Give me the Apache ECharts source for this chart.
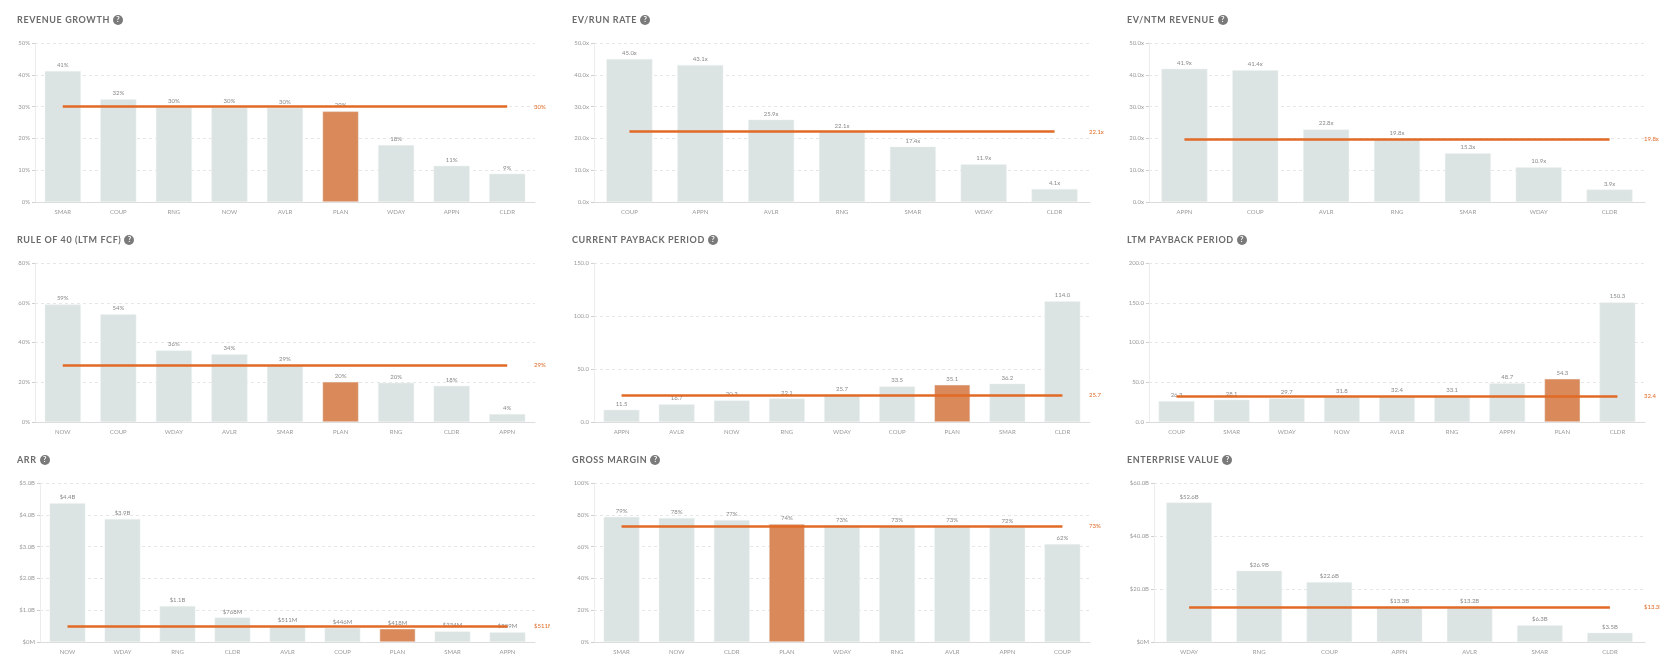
<!DOCTYPE html>
<html>
<head>
<meta charset="utf-8">
<script src="https://cdn.jsdelivr.net/npm/echarts@6/dist/echarts.min.js"></script>
<style>
  body { margin: 0; background: #fff; width: 1671px; height: 666px; overflow: hidden; position: relative; }
  .panel { position: absolute; width: 550px; height: 220px; }
  .chart { position: absolute; left: 0; top: 0; width: 550px; height: 220px; }
  .title {
    position: absolute; left: 17px; top: 15px; z-index: 2;
    font-family: Lato, "Open Sans", sans-serif; font-weight: bold; font-size: 9px;
    letter-spacing: 0.6px; color: #6b6b6b; line-height: 10px; white-space: nowrap;
  }
  .q {
    display: inline-block; width: 10px; height: 10px; border-radius: 50%; background: #7a7a7a;
    color: #fff; font-size: 7.5px; line-height: 10px; text-align: center; letter-spacing: 0;
    margin-left: 3px; vertical-align: top;
  }
</style>
</head>
<body>
<script>
// --- data ---
var revCats = ['SMAR', 'COUP', 'RNG', 'NOW', 'AVLR', 'PLAN', 'WDAY', 'APPN', 'CLDR'];
var revVals = [41.2, 32.3, 29.8, 29.7, 29.6, 28.5, 17.9, 11.4, 8.9];
var revMedian = 30;

var runCats = ['COUP', 'APPN', 'AVLR', 'RNG', 'SMAR', 'WDAY', 'CLDR'];
var runVals = [45.0, 43.1, 25.9, 22.1, 17.4, 11.9, 4.1];
var runMedian = 22.1;

var ntmCats = ['APPN', 'COUP', 'AVLR', 'RNG', 'SMAR', 'WDAY', 'CLDR'];
var ntmVals = [41.9, 41.4, 22.8, 19.8, 15.3, 10.9, 3.9];
var ntmMedian = 19.8;

var r40Cats = ['NOW', 'COUP', 'WDAY', 'AVLR', 'SMAR', 'PLAN', 'RNG', 'CLDR', 'APPN'];
var r40Vals = [59.1, 54.2, 36.0, 34.1, 28.6, 20.2, 19.7, 18.2, 4.0];
var r40Median = 28.6;

var curCats = ['APPN', 'AVLR', 'NOW', 'RNG', 'WDAY', 'COUP', 'PLAN', 'SMAR', 'CLDR'];
var curVals = [11.5, 16.7, 20.3, 22.1, 25.7, 33.5, 35.1, 36.2, 114.0];
var curMedian = 25.7;

var ltmCats = ['COUP', 'SMAR', 'WDAY', 'NOW', 'AVLR', 'RNG', 'APPN', 'PLAN', 'CLDR'];
var ltmVals = [26.3, 28.1, 29.7, 31.8, 32.4, 33.1, 48.7, 54.3, 150.3];
var ltmMedian = 32.4;

// ARR and EV in $M
var arrCats = ['NOW', 'WDAY', 'RNG', 'CLDR', 'AVLR', 'COUP', 'PLAN', 'SMAR', 'APPN'];
var arrVals = [4360, 3870, 1130, 768, 511, 446, 418, 334, 309];
var arrMedian = 511;

var gmCats = ['SMAR', 'NOW', 'CLDR', 'PLAN', 'WDAY', 'RNG', 'AVLR', 'APPN', 'COUP'];
var gmVals = [78.7, 78.0, 76.8, 74.2, 73.2, 73.1, 73.0, 72.3, 61.6];
var gmMedian = 73.1;

var evCats = ['WDAY', 'RNG', 'COUP', 'APPN', 'AVLR', 'SMAR', 'CLDR'];
var evVals = [52600, 26900, 22600, 13300, 13200, 6300, 3500];
var evMedian = 13300;

var HIGHLIGHT = 'PLAN';

function pct(v) { return Math.round(v) + '%'; }
function mult(v) { return v.toFixed(1) + 'x'; }
function num(v) { return v.toFixed(1); }
function money(v) {
  if (v === 0) return '$0M';
  if (v >= 1000) return '$' + (v / 1000).toFixed(1) + 'B';
  return '$' + Math.round(v) + 'M';
}

var panels = [
  { title: 'REVENUE GROWTH', cats: revCats, vals: revVals, median: revMedian, fmt: pct, max: 50, interval: 10, left: 35 },
  { title: 'EV/RUN RATE', cats: runCats, vals: runVals, median: runMedian, fmt: mult, max: 50, interval: 10, left: 39 },
  { title: 'EV/NTM REVENUE', cats: ntmCats, vals: ntmVals, median: ntmMedian, fmt: mult, max: 50, interval: 10, left: 39 },
  { title: 'RULE OF 40 (LTM FCF)', cats: r40Cats, vals: r40Vals, median: r40Median, fmt: pct, max: 80, interval: 20, left: 35 },
  { title: 'CURRENT PAYBACK PERIOD', cats: curCats, vals: curVals, median: curMedian, fmt: num, max: 150, interval: 50, left: 39 },
  { title: 'LTM PAYBACK PERIOD', cats: ltmCats, vals: ltmVals, median: ltmMedian, fmt: num, max: 200, interval: 50, left: 39 },
  { title: 'ARR', cats: arrCats, vals: arrVals, median: arrMedian, fmt: money, max: 5000, interval: 1000, left: 40 },
  { title: 'GROSS MARGIN', cats: gmCats, vals: gmVals, median: gmMedian, fmt: pct, max: 100, interval: 20, left: 39 },
  { title: 'ENTERPRISE VALUE', cats: evCats, vals: evVals, median: evMedian, fmt: money, max: 60000, interval: 20000, left: 44 }
];

var W = 550, H = 220, RIGHT = 15;
var FONT = 'Lato, "Open Sans", sans-serif';

panels.forEach(function (p, i) {
  var col = i % 3, row = Math.floor(i / 3);
  var panel = document.createElement('div');
  panel.className = 'panel';
  panel.style.left = (col * 555) + 'px';
  panel.style.top = (row * 220) + 'px';
  panel.innerHTML = '<div class="title">' + p.title + '<span class="q">?</span></div><div class="chart"></div>';
  document.body.appendChild(panel);

  var myChart = echarts.init(panel.querySelector('.chart'), null, { width: W, height: H });
  var catW = (W - p.left - RIGHT) / p.cats.length;
  var last = p.cats.length - 1;

  var option = {
    animation: false,
    grid: { left: p.left, right: RIGHT, top: 43, bottom: 18 },
    xAxis: {
      type: 'category',
      data: p.cats,
      axisLine: { lineStyle: { color: '#dcdcdc', width: 1 } },
      axisTick: { show: false },
      axisLabel: { color: '#9a9a9a', fontSize: 6, fontFamily: FONT, margin: 7 }
    },
    yAxis: {
      type: 'value',
      min: 0,
      max: p.max,
      interval: p.interval,
      axisLine: { show: true, lineStyle: { color: '#ececec' } },
      axisTick: { show: true, length: 3, lineStyle: { color: '#cfcfcf' } },
      axisLabel: { color: '#9a9a9a', fontSize: 6, fontFamily: FONT, margin: 5, formatter: p.fmt },
      splitLine: { lineStyle: { color: '#e6e6e6', type: [3, 3] } }
    },
    series: [
      {
        type: 'bar',
        data: p.vals,
        barCategoryGap: '35%',
        itemStyle: {
          color: function (params) { return params.name === HIGHLIGHT ? '#d9895a' : '#dbe4e3'; },
          borderColor: '#eef3f2',
          borderWidth: 0.5
        },
        label: {
          show: true,
          position: 'top',
          distance: 3,
          color: '#8a8a8a',
          fontSize: 6,
          fontFamily: FONT,
          formatter: function (params) { return p.fmt(params.value); }
        },
        markLine: {
          silent: true,
          symbol: 'none',
          z: 10,
          lineStyle: { color: '#e06a26', width: 2.5, type: 'solid', opacity: 1 },
          label: {
            show: true,
            position: 'end',
            distance: catW / 2 - 1,
            color: '#e06a26',
            fontSize: 6,
            fontFamily: FONT,
            formatter: function () { return p.fmt(p.median); }
          },
          data: [[{ coord: [p.cats[0], p.median] }, { coord: [p.cats[last], p.median] }]]
        }
      }
    ]
  };

  option && myChart.setOption(option);
});
</script>
</body>
</html>
